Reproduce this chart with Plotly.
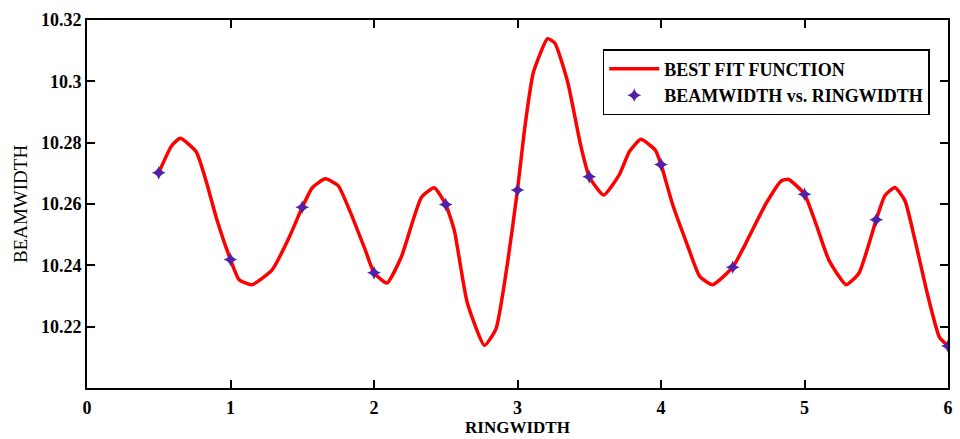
import plotly.graph_objects as go

# measured data points
ring_width = [0.5, 1.0, 1.5, 2.0, 2.5, 3.0, 3.5, 4.0, 4.5, 5.0, 5.5, 6.0]
beam_width = [10.2702, 10.2419, 10.2589, 10.2376, 10.2598, 10.2646,
              10.2689, 10.2729, 10.2394, 10.2632, 10.2549, 10.2137]

# best fit function
fit_x = [0.50, 0.59, 0.65, 0.76, 0.83, 0.90, 1.00, 1.06, 1.15, 1.29, 1.41, 1.50,
         1.57, 1.66, 1.75, 1.84, 1.94, 2.00, 2.09, 2.19, 2.33, 2.42, 2.50, 2.56,
         2.65, 2.77, 2.85, 2.93, 3.00, 3.05, 3.11, 3.21, 3.26, 3.35, 3.44, 3.50,
         3.60, 3.71, 3.78, 3.86, 3.96, 4.00, 4.08, 4.18, 4.27, 4.36, 4.50, 4.59,
         4.73, 4.84, 4.89, 5.00, 5.08, 5.17, 5.29, 5.38, 5.50, 5.56, 5.63, 5.70,
         5.77, 5.86, 5.94, 6.00]
fit_y = [10.2702, 10.2790, 10.2814, 10.2771, 10.2675, 10.2557, 10.2419, 10.2353,
         10.2337, 10.2385, 10.2492, 10.2589, 10.2653, 10.2682, 10.2660, 10.2568,
         10.2449, 10.2376, 10.2342, 10.2427, 10.2621, 10.2653, 10.2598, 10.2513,
         10.2278, 10.2139, 10.2193, 10.2406, 10.2646, 10.2846, 10.3028, 10.3139,
         10.3125, 10.2997, 10.2792, 10.2689, 10.2629, 10.2696, 10.2771, 10.2811,
         10.2776, 10.2729, 10.2600, 10.2471, 10.2364, 10.2337, 10.2394, 10.2471,
         10.2600, 10.2676, 10.2680, 10.2632, 10.2535, 10.2417, 10.2337, 10.2375,
         10.2549, 10.2627, 10.2654, 10.2611, 10.2482, 10.2300, 10.2166, 10.2137]

x_ticks = [0, 1, 2, 3, 4, 5, 6]
y_ticks = [10.22, 10.24, 10.26, 10.28, 10.30, 10.32]
y_tick_text = ["10.22", "10.24", "10.26", "10.28", "10.3", "10.32"]

serif = "Liberation Serif, Times New Roman, serif"

fig = go.Figure()
fig.add_trace(go.Scatter(
    x=fit_x, y=fit_y, mode="lines", name="BEST FIT FUNCTION",
    line=dict(color="#FF0000", width=3.5, shape="spline", smoothing=0.5),
))
fig.add_trace(go.Scatter(
    x=ring_width, y=beam_width, mode="markers", name="BEAMWIDTH vs. RINGWIDTH",
    marker=dict(symbol="star-diamond", size=10, color="#5020A8",
                line=dict(width=0)),
))

axis_common = dict(
    showline=True, linecolor="black", linewidth=2, mirror="ticks",
    ticks="inside", ticklen=8, tickwidth=2, tickcolor="black",
    showgrid=False, zeroline=False,
    tickfont=dict(family=serif, size=18, color="black", weight="bold"),
)

fig.update_layout(
    width=960, height=439,
    margin=dict(l=87, r=7, t=20, b=44),
    paper_bgcolor="white", plot_bgcolor="white",
    xaxis=dict(range=[0, 6], tickvals=x_ticks, ticklabelstandoff=2,
               title=dict(text="RINGWIDTH", standoff=3,
                          font=dict(family=serif, size=17, color="black", weight="bold")),
               **axis_common),
    yaxis=dict(range=[10.2, 10.32], tickvals=y_ticks, ticktext=y_tick_text,
               ticklabelstandoff=0,
               title=dict(text="BEAMWIDTH", standoff=8,
                          font=dict(family=serif, size=19, color="black")),
               **axis_common),
    showlegend=True,
    legend=dict(
        x=0.599, y=0.921, xanchor="left", yanchor="top",
        bgcolor="white", bordercolor="black", borderwidth=1.5,
        font=dict(family=serif, size=18, color="black", weight="bold"),
        tracegroupgap=0, itemwidth=50,
    ),
)

fig.write_html("out.html")
